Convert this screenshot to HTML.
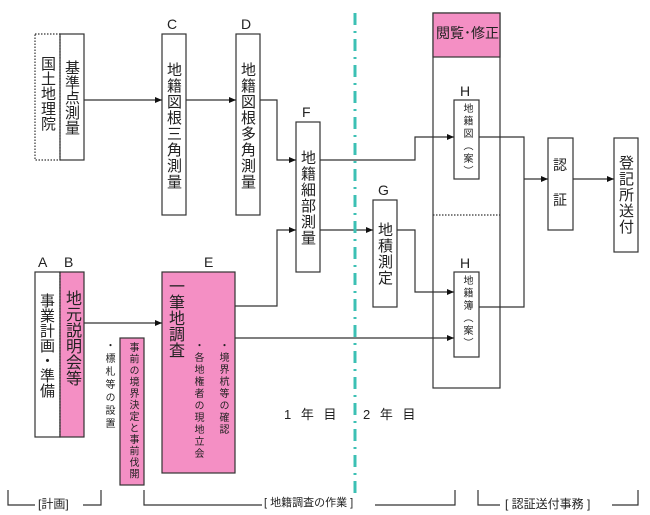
<!DOCTYPE html>
<html><head><meta charset="utf-8"><style>
body{margin:0;background:#fff;width:650px;height:515px;position:relative;overflow:hidden;font-family:"Liberation Sans","Noto Sans CJK JP",sans-serif;color:#222}
.v{position:absolute;writing-mode:vertical-rl;line-height:1;white-space:nowrap}
.t{position:absolute;line-height:1;white-space:nowrap}
svg{position:absolute;left:0;top:0}
</style></head><body>
<svg width="650" height="515">
<defs><marker id="a" markerWidth="8" markerHeight="8" refX="7" refY="3" orient="auto" markerUnits="userSpaceOnUse"><path d="M0,0L7,3L0,6z" fill="#111"/></marker></defs>
<g stroke="#333" stroke-width="1.2" fill="none">
<rect x="35" y="34" width="25" height="126" stroke-dasharray="1.5,1.5"/>
<rect x="60" y="34" width="24" height="126"/>
<rect x="162" y="34" width="24" height="181"/>
<rect x="236" y="34" width="24" height="181"/>
<rect x="296" y="122" width="24" height="150"/>
<rect x="35" y="272" width="25" height="165"/>
<rect x="60" y="272" width="24" height="165" fill="#f48fc4" stroke="#333"/>
<line x1="60" y1="272" x2="60" y2="437" stroke-dasharray="1.5,1.5"/>
<rect x="162" y="272" width="73" height="201" fill="#f48fc4"/>
<rect x="120" y="338" width="24" height="147" fill="#f48fc4"/>
<rect x="373" y="200" width="24" height="107"/>
<rect x="433" y="13" width="67" height="375"/>
<rect x="433" y="13" width="67" height="44" fill="#f48fc4"/>
<line x1="433" y1="215" x2="500" y2="215" stroke-dasharray="1.5,1.5"/>
<rect x="454" y="100" width="25" height="79"/>
<rect x="454" y="272" width="25" height="85"/>
<rect x="548" y="138" width="25" height="92"/>
<rect x="614" y="138" width="24" height="114"/>
<path d="M84,100H162" marker-end="url(#a)"/>
<path d="M186,100H236" marker-end="url(#a)"/>
<path d="M260,100H277V160H296" marker-end="url(#a)"/>
<path d="M84,323H162" marker-end="url(#a)"/>
<path d="M235,306H277V230H296" marker-end="url(#a)"/>
<path d="M235,338H454" marker-end="url(#a)"/>
<path d="M320,160H415V137H454" marker-end="url(#a)"/>
<path d="M320,230H373" marker-end="url(#a)"/>
<path d="M397,230H415V292H454" marker-end="url(#a)"/>
<path d="M479,137H524V307H479"/>
<path d="M524,179H548" marker-end="url(#a)"/>
<path d="M573,179H614" marker-end="url(#a)"/>
<path d="M8,490V505H35M83,505H101V490"/>
<path d="M144,490V505H262M375,505H455V490"/>
<path d="M478,490V505H500M612,505H638V490"/>
</g>
<line x1="355" y1="13" x2="355" y2="497" stroke="#3cc0b4" stroke-width="3" stroke-dasharray="12,6,2,6"/>
</svg>
<div class="v" style="left:40px;top:56px;font-size:15px">国土地理院</div>
<div class="v" style="left:64px;top:60px;font-size:15px">基準点測量</div>
<div class="t" style="left:167px;top:17px;font-size:14px">C</div>
<div class="t" style="left:241px;top:17px;font-size:14px">D</div>
<div class="t" style="left:302px;top:105px;font-size:14px">F</div>
<div class="t" style="left:378px;top:183px;font-size:14px">G</div>
<div class="t" style="left:460px;top:84px;font-size:14px">H</div>
<div class="t" style="left:460px;top:256px;font-size:14px">H</div>
<div class="t" style="left:38px;top:255px;font-size:14px">A</div>
<div class="t" style="left:64px;top:255px;font-size:14px">B</div>
<div class="t" style="left:204px;top:255px;font-size:14px">E</div>
<div class="v" style="left:166px;top:62px;font-size:15px;letter-spacing:1px">地籍図根三角測量</div>
<div class="v" style="left:240px;top:62px;font-size:15px;letter-spacing:1px">地籍図根多角測量</div>
<div class="v" style="left:300px;top:150px;font-size:15px;letter-spacing:1px">地籍細部測量</div>
<div class="v" style="left:377px;top:222px;font-size:15px;letter-spacing:1px">地積測定</div>
<div class="v" style="left:618px;top:155px;font-size:15px;letter-spacing:1px">登記所送付</div>
<div class="t" style="left:553px;top:158px;font-size:14px">認</div>
<div class="t" style="left:553px;top:193px;font-size:14px">証</div>
<div class="v" style="left:461px;top:103px;font-size:10px;letter-spacing:2.5px">地籍図（案）</div>
<div class="v" style="left:461px;top:275px;font-size:10px;letter-spacing:2.5px">地籍簿（案）</div>
<div class="t" style="left:436px;top:26px;font-size:14px;color:#222">閲覧･修正</div>
<div class="v" style="left:39px;top:293px;font-size:15px">事業計画・準備</div>
<div class="v" style="left:63px;top:290px;font-size:16px">地元説明会等</div>
<div class="v" style="left:166px;top:278px;font-size:16px">一筆地調査</div>
<div class="v" style="left:192px;top:340px;font-size:10px;letter-spacing:2px">・各地権者の現地立会</div>
<div class="v" style="left:217px;top:340px;font-size:10px;letter-spacing:2px">・境界杭等の確認</div>
<div class="v" style="left:127px;top:342px;font-size:10px;letter-spacing:1.5px">事前の境界決定と事前伐開</div>
<div class="v" style="left:103px;top:340px;font-size:10px;letter-spacing:3px">・標札等の設置</div>
<div class="t" style="left:284px;top:408px;font-size:13px;letter-spacing:3px">1 年 目</div>
<div class="t" style="left:363px;top:408px;font-size:13px;letter-spacing:3px">2 年 目</div>
<div class="t" style="left:38px;top:498px;font-size:12px">[計画]</div>
<div class="t" style="left:264px;top:498px;font-size:11px">[ 地籍調査の作業 ]</div>
<div class="t" style="left:505px;top:498px;font-size:12px">[ 認証送付事務 ]</div>
</body></html>
